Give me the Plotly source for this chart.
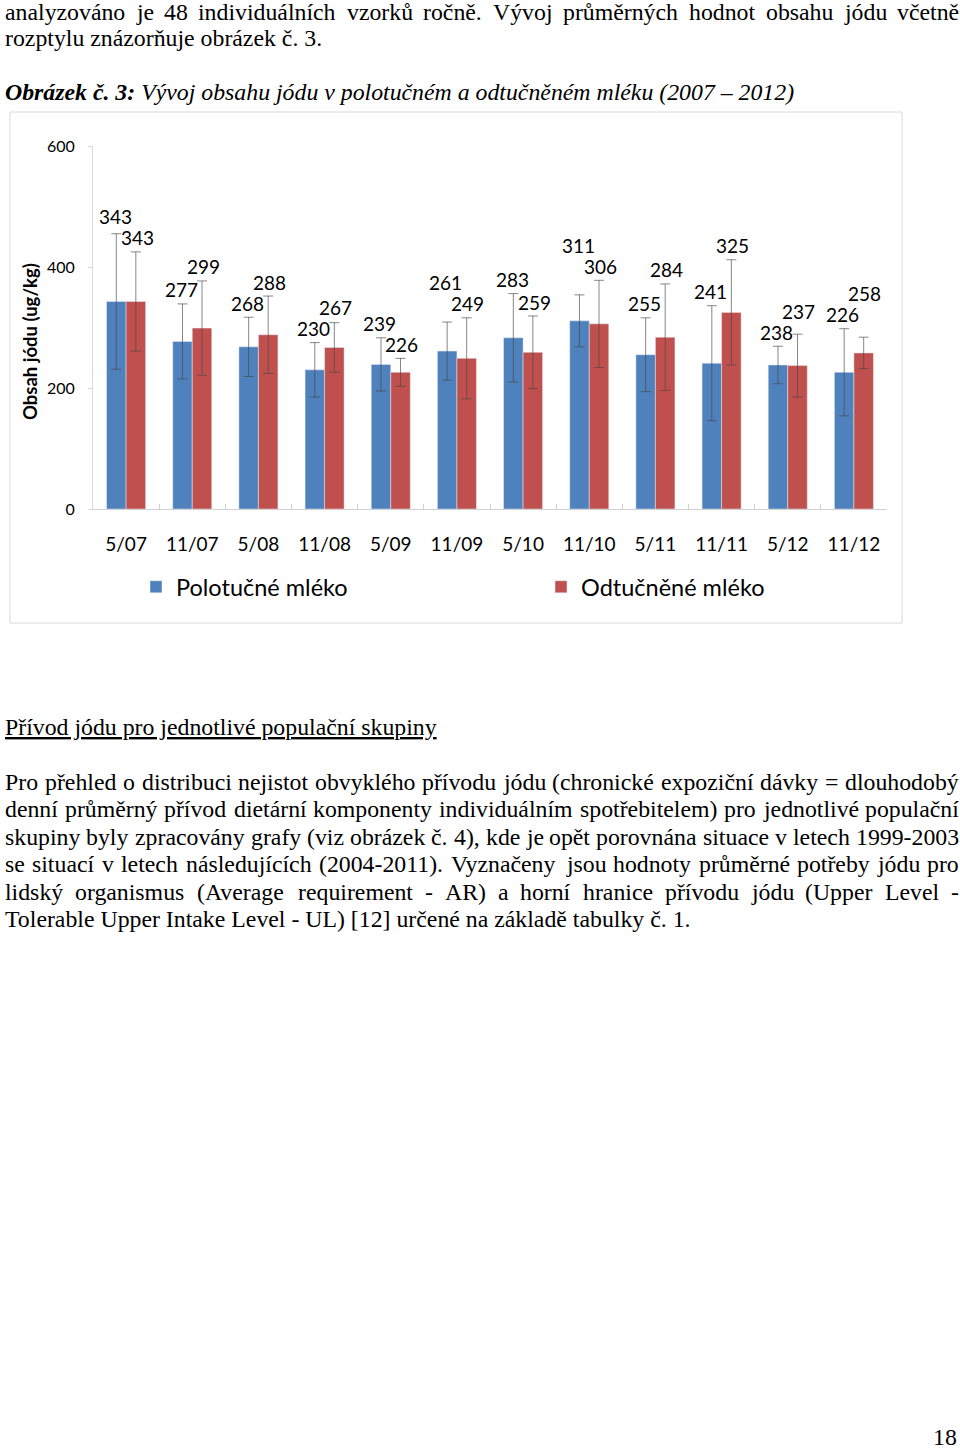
import glob
import struct
import plotly.graph_objects as go

W, H = 960, 1451

categories = ["5/07", "11/07", "5/08", "11/08", "5/09", "11/09", "5/10", "11/10", "5/11", "11/11", "5/12", "11/12"]
polotucne = [343, 277, 268, 230, 239, 261, 283, 311, 255, 241, 238, 226]
odtucnene = [343, 299, 288, 267, 226, 249, 259, 306, 284, 325, 237, 258]
polotucne_err = [112, 62, 49, 45, 44, 48, 73, 43, 61, 95, 31, 72]
odtucnene_err = [82, 78, 64, 41, 23, 67, 60, 72, 88, 87, 52, 26]
y_ticks = [0, 200, 400, 600]

text_top = [
    "analyzováno je 48 individuálních vzorků ročně. Vývoj průměrných hodnot obsahu jódu včetně",
    "rozptylu znázorňuje obrázek č. 3.",
]
caption = "<b><i>Obrázek č. 3:</i></b><i> Vývoj obsahu jódu v polotučném a odtučněném mléku (2007 – 2012)</i>"
heading = "<u>Přívod jódu pro jednotlivé populační skupiny</u>"
paragraph = [
    "Pro přehled o distribuci nejistot obvyklého přívodu jódu (chronické expoziční dávky =  dlouhodobý",
    "denní průměrný přívod dietární komponenty individuálním spotřebitelem) pro jednotlivé populační",
    "skupiny byly zpracovány grafy (viz obrázek č. 4), kde je opět porovnána situace v letech 1999-2003",
    "se situací v letech následujících (2004-2011). Vyznačeny jsou hodnoty průměrné potřeby jódu pro",
    "lidský organismus (Average requirement - AR) a horní hranice přívodu jódu (Upper Level -",
    "Tolerable Upper Intake Level - UL) [12] určené na základě tabulky č. 1.",
]
page_number = "18"

BLUE = "#4F81BD"
RED = "#C0504D"
ERR = "rgba(70,70,70,0.65)"
SANS = "Lato, Carlito, sans-serif"
SERIF_FAMILY = "Liberation Serif, Times New Roman, serif"
SERIF_SIZE = 23.8

# plot area geometry (pixels)
PLOT_L, PLOT_R, PLOT_T, PLOT_B = 93, 887, 146, 509
Y_MAX = 600
PX_PER_UNIT = (PLOT_B - PLOT_T) / Y_MAX
TEXT_L, TEXT_R = 4, 958


def py(px):
    return 1 - px / H


def px_x(px):
    return px / W


# ---- simple TrueType advance-width measurement (for justified text) ----
def load_measurer():
    paths = glob.glob("/usr/share/fonts/**/LiberationSerif-Regular.ttf", recursive=True)
    if not paths:
        return None
    try:
        data = open(paths[0], "rb").read()
        num_tables = struct.unpack(">H", data[4:6])[0]
        tables = {}
        for i in range(num_tables):
            tag, _cs, off, ln = struct.unpack(">4sIII", data[12 + 16 * i:28 + 16 * i])
            tables[tag.decode("latin-1")] = (off, ln)
        head = tables["head"][0]
        upem = struct.unpack(">H", data[head + 18:head + 20])[0]
        hhea = tables["hhea"][0]
        num_hm = struct.unpack(">H", data[hhea + 34:hhea + 36])[0]
        hmtx = tables["hmtx"][0]
        adv = [struct.unpack(">H", data[hmtx + 4 * i:hmtx + 4 * i + 2])[0] for i in range(num_hm)]
        cmap = tables["cmap"][0]
        nsub = struct.unpack(">H", data[cmap + 2:cmap + 4])[0]
        sub = None
        for i in range(nsub):
            pid, eid, off = struct.unpack(">HHI", data[cmap + 4 + 8 * i:cmap + 12 + 8 * i])
            if pid == 3 and eid == 1:
                sub = cmap + off
        if sub is None or struct.unpack(">H", data[sub:sub + 2])[0] != 4:
            return None
        seg_x2 = struct.unpack(">H", data[sub + 6:sub + 8])[0]
        seg = seg_x2 // 2
        ends = struct.unpack(">%dH" % seg, data[sub + 14:sub + 14 + seg_x2])
        starts = struct.unpack(">%dH" % seg, data[sub + 16 + seg_x2:sub + 16 + 2 * seg_x2])
        deltas = struct.unpack(">%dh" % seg, data[sub + 16 + 2 * seg_x2:sub + 16 + 3 * seg_x2])
        roff_pos = sub + 16 + 3 * seg_x2
        roffs = struct.unpack(">%dH" % seg, data[roff_pos:roff_pos + seg_x2])

        def gid(ch):
            c = ord(ch)
            for i in range(seg):
                if ends[i] >= c:
                    if starts[i] > c:
                        return 0
                    if roffs[i] == 0:
                        return (c + deltas[i]) & 0xFFFF
                    addr = roff_pos + 2 * i + roffs[i] + 2 * (c - starts[i])
                    g = struct.unpack(">H", data[addr:addr + 2])[0]
                    return (g + deltas[i]) & 0xFFFF if g else 0
            return 0

        def width(text, size):
            return sum(adv[min(gid(ch), num_hm - 1)] for ch in text) * size / upem

        return width
    except Exception:
        return None


measure = load_measurer()
if measure is None:
    def measure(text, size):
        return len(text) * size * 0.44


serif = dict(family=SERIF_FAMILY, size=SERIF_SIZE, color="#000")
annotations = []


def add_line(text, y_px, justify):
    if not justify:
        annotations.append(dict(x=px_x(TEXT_L), y=py(y_px), xref="paper", yref="paper", text=text,
                                showarrow=False, xanchor="left", yanchor="middle", font=serif,
                                borderpad=0))
        return
    words = text.split()
    widths = [measure(w, SERIF_SIZE) for w in words]
    gap = (TEXT_R - TEXT_L - sum(widths)) / (len(words) - 1)
    x = TEXT_L
    for w, wd in zip(words, widths):
        annotations.append(dict(x=px_x(x), y=py(y_px), xref="paper", yref="paper", text=w,
                                showarrow=False, xanchor="left", yanchor="middle", font=serif,
                                borderpad=0))
        x += wd + gap


# ---- chart ----
fig = go.Figure()
fig.add_trace(go.Bar(
    name="Polotučné mléko", x=categories, y=polotucne, marker_color=BLUE,
    error_y=dict(type="data", array=polotucne_err, visible=True, color=ERR, thickness=1, width=5),
))
fig.add_trace(go.Bar(
    name="Odtučněné mléko", x=categories, y=odtucnene, marker_color=RED,
    error_y=dict(type="data", array=odtucnene_err, visible=True, color=ERR, thickness=1, width=5),
))

# data labels above the error-bar caps; the clearly larger value's label stays on top,
# otherwise the label with the higher cap does
LABEL_OFF = 14 / PX_PER_UNIT
LABEL_SEP = 21 / PX_PER_UNIT
label_font = dict(family=SANS, size=19, color="#000")
for c, vb, eb, vr, er in zip(categories, polotucne, polotucne_err, odtucnene, odtucnene_err):
    yb = vb + eb + LABEL_OFF
    yr = vr + er + LABEL_OFF
    blue_on_top = (vb > vr) if abs(vb - vr) > 2 else (vb + eb >= vr + er)
    if blue_on_top:
        yb = max(yb, yr + LABEL_SEP)
    else:
        yr = max(yr, yb + LABEL_SEP)
    annotations.append(dict(x=c, y=yb, xref="x", yref="y", text=str(vb), showarrow=False,
                            xshift=-11, yanchor="middle", font=label_font))
    annotations.append(dict(x=c, y=yr, xref="x", yref="y", text=str(vr), showarrow=False,
                            xshift=11, yanchor="middle", font=label_font))

annotations.append(dict(x=px_x(30), y=py(342), xref="paper", yref="paper",
                        text="<b>Obsah jódu (ug/kg)</b>", textangle=-90, showarrow=False,
                        xanchor="center", yanchor="middle",
                        font=dict(family=SANS, size=18.5, color="#000")))

# ---- page text ----
add_line(text_top[0], 12, True)
add_line(text_top[1], 38, False)
add_line(caption, 92, False)
add_line(heading, 727, False)
for i, line in enumerate(paragraph):
    add_line(line, 782 + i * 27.4, i < len(paragraph) - 1)
annotations.append(dict(x=px_x(958), y=0, xref="paper", yref="paper", text=page_number,
                        showarrow=False, xanchor="right", yanchor="bottom", font=serif, borderpad=0))

fig.update_layout(
    width=W, height=H,
    margin=dict(l=0, r=0, t=0, b=0, autoexpand=False),
    paper_bgcolor="white", plot_bgcolor="white",
    barmode="group", bargap=0.41, bargroupgap=0,
    showlegend=True,
    legend=dict(orientation="h", x=px_x(136), y=py(587), xanchor="left", yanchor="middle",
                entrywidth=360, font=dict(family=SANS, size=23.5, color="#000"),
                bgcolor="rgba(0,0,0,0)"),
    annotations=annotations,
    shapes=[dict(type="rect", xref="paper", yref="paper", x0=px_x(10), x1=px_x(902),
                 y0=py(623), y1=py(112), line=dict(color="#d9d9d9", width=1))],
    xaxis=dict(domain=[px_x(PLOT_L), px_x(PLOT_R)], showline=True, linecolor="#d0d0d0", linewidth=1,
               ticks="inside", tickson="boundaries", ticklen=5, tickcolor="#d0d0d0",
               ticklabelstandoff=18,
               tickfont=dict(family=SANS, size=19, color="#000"), showgrid=False),
    yaxis=dict(domain=[py(PLOT_B), py(PLOT_T)], range=[0, Y_MAX], tickvals=y_ticks,
               showline=True, linecolor="#d9d9d9", linewidth=1, ticks="outside", ticklen=4,
               tickcolor="#d9d9d9", showgrid=False, zeroline=False, ticklabelstandoff=10,
               tickfont=dict(family=SANS, size=16, color="#000")),
)

fig.write_html("out.html", config={"displayModeBar": False},
               post_script="document.body.style.margin='0';document.body.style.overflow='hidden';")
